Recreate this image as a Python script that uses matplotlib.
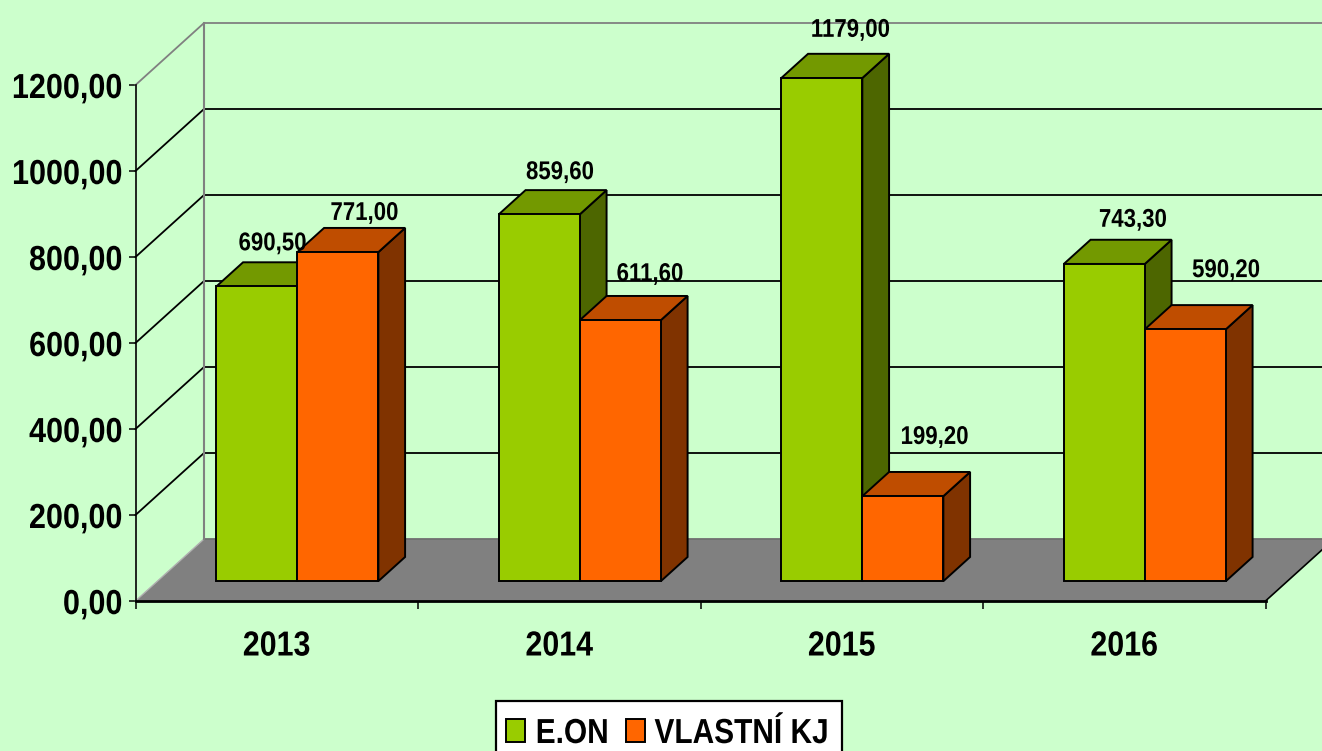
import matplotlib
matplotlib.use('Agg')
import matplotlib.pyplot as plt
from matplotlib.patches import Polygon, Rectangle
from matplotlib.patheffects import AbstractPathEffect
from matplotlib.transforms import Affine2D

years = ['2013', '2014', '2015', '2016']
eon = [690.5, 859.6, 1179.0, 743.3]
vlastni = [771.0, 611.6, 199.2, 590.2]
ticks = [0, 200, 400, 600, 800, 1000, 1200]
series_names = ['E.ON', 'VLASTNÍ KJ']

# label nudges in pixels, (right, up) from the back centre of the bar top
eon_nudge = [(-11, 19), (-6, 18), (2, 24), (2, 20)]
vlastni_nudge = [(0, 15), (3, 22), (5, 35), (14, 35)]

BG = '#CCFFCC'
FONT = ['Liberation Sans', 'DejaVu Sans']
W, H = 1322, 751

# depth of the 3d box in data units
DX = 68.5 / 282.4
DY = 62 / 0.43
# bars sit between these depths
D0, D1 = 0.32, 0.71
GAP = 0.2085
BAR_W = 0.2868
BAR_SCALE = 0.9925


class Squeeze(AbstractPathEffect):
    # narrow the glyphs around the middle of the text, Arial Narrow is not installed
    def __init__(self, s):
        super().__init__()
        self.s = s

    def draw_path(self, renderer, gc, tpath, affine, rgbFace=None):
        xs = tpath.vertices[:, 0]
        c = (xs.min() + xs.max()) / 2
        t = Affine2D().translate(-c, 0).scale(self.s, 1).translate(c, 0)
        renderer.draw_path(gc, tpath, t + affine, rgbFace)


def fmt(v):
    return f'{v:.2f}'.replace('.', ',')


def proj(x, y, d):
    return (x + d * DX, y + d * DY)


def fx(px):
    return px / W


def fy(px):
    return (H - px) / H


fig = plt.figure(figsize=(W / 100, H / 100), dpi=100, facecolor=BG)
ax = fig.add_axes([fx(135.5), fy(601), 1130 / W, 516 / H])
ax.set_xlim(0, 4)
ax.set_ylim(0, 1200)
ax.patch.set_alpha(0)

# floor
ax.add_patch(Polygon([proj(0, 0, 0), proj(4, 0, 0), proj(4, 0, 1), proj(0, 0, 1)],
                     fc='#808080', ec='none', clip_on=False, zorder=1))

# walls and gridlines
for t in ticks:
    c = '#808080' if t in (0, 1200) else 'black'
    if t > 0:
        x0, y0 = proj(0, t, 0)
        x1, y1 = proj(0, t, 1)
        x2, y2 = proj(4, t, 1)
        ax.plot([x0, x1, x2], [y0, y1, y2], color=c, lw=1.3, clip_on=False, zorder=2,
                solid_joinstyle='miter')
x0, y0 = proj(0, 0, 0)
x1, y1 = proj(0, 0, 1)
x2, y2 = proj(4, 0, 1)
ax.plot([x0, x1], [y0, y1], color='#B0B0B0', lw=1, clip_on=False, zorder=2)
ax.plot([x1, x2], [y1, y2], color='#707070', lw=1.3, clip_on=False, zorder=2)
x3, y3 = proj(0, 1200, 1)
ax.plot([x1, x3], [y1, y3], color='#808080', lw=1.5, clip_on=False, zorder=2)
x4, y4 = proj(4, 0, 0)
x5, y5 = proj(4, 0, 1)
ax.plot([x4, x5], [y4, y5], color='black', lw=1.2, clip_on=False, zorder=2)


def bar(x, v, front, top, side):
    v = v * BAR_SCALE
    l, r = x, x + BAR_W
    faces = [
        ([proj(r, 0, D0), proj(r, 0, D1), proj(r, v, D1), proj(r, v, D0)], side),
        ([proj(l, v, D0), proj(r, v, D0), proj(r, v, D1), proj(l, v, D1)], top),
        ([proj(l, 0, D0), proj(r, 0, D0), proj(r, v, D0), proj(l, v, D0)], front),
    ]
    for pts, col in faces:
        ax.add_patch(Polygon(pts, fc=col, ec='black', lw=1.4, clip_on=False, zorder=3,
                             joinstyle='miter'))


def label(x, v, nudge):
    xy = proj(x + BAR_W / 2, v * BAR_SCALE, D1)
    ax.annotate(fmt(v), xy, xytext=(nudge[0] * 0.72, nudge[1] * 0.72),
                textcoords='offset points', ha='center', va='center',
                fontsize=18.5, fontweight='bold', family=FONT, color='black',
                annotation_clip=False, zorder=5, path_effects=[Squeeze(0.865)])


for i in range(len(years)):
    bar(i + GAP, eon[i], '#99CC00', '#739900', '#4D6600')
    bar(i + GAP + BAR_W, vlastni[i], '#FF6600', '#BF4D00', '#803300')
    label(i + GAP, eon[i], eon_nudge[i])
    label(i + GAP + BAR_W, vlastni[i], vlastni_nudge[i])

# axes
for s in ('top', 'right'):
    ax.spines[s].set_visible(False)
ax.spines['left'].set_linewidth(1.2)
ax.spines['bottom'].set_linewidth(2)
ax.spines['left'].set_zorder(6)
ax.spines['bottom'].set_zorder(6)
ax.set_yticks(ticks)
ax.set_yticklabels([fmt(t) for t in ticks], fontsize=25, fontweight='bold', family=FONT)
ax.set_xticks(range(5))
ax.set_xticklabels([''] * 5)
ax.tick_params(axis='y', length=5, width=1.1, pad=4.5)
ax.tick_params(axis='x', length=6, width=1.1)

# right edge stays put once squeezed, so anchor each tick label at its final middle
YS = 0.88
rend = fig.canvas.get_renderer()
for lbl in ax.get_yticklabels():
    w = lbl.get_window_extent(rend).width
    lbl.set_ha('center')
    lbl.set_transform(lbl.get_transform() + Affine2D().translate(-YS * w / 2, 0))
    lbl.set_path_effects([Squeeze(YS)])

for i, y in enumerate(years):
    ax.annotate(y, (i + 0.5, 0), xytext=(0, -45 * 0.72), textcoords='offset points',
                ha='center', va='center', fontsize=25, fontweight='bold', family=FONT,
                annotation_clip=False, path_effects=[Squeeze(0.875)])

# legend box runs off the bottom of the picture
fig.add_artist(Rectangle((fx(495.5), fy(790)), 346.5 / W, 89 / H, fc='white', ec='black', lw=1.6,
                         transform=fig.transFigure))
for name, col, sq_x, txt_x in zip(series_names, ['#99CC00', '#FF6600'], [506, 625.5], [572.5, 742]):
    fig.add_artist(Rectangle((fx(sq_x), fy(742)), 19 / W, 23 / H, fc=col, ec='black', lw=1.4,
                             transform=fig.transFigure))
    fig.text(fx(txt_x), fy(743), name, ha='center', va='baseline', fontsize=25, fontweight='bold',
             family=FONT, path_effects=[Squeeze(0.86)])

fig.savefig('out.png', dpi=100, facecolor=BG)
